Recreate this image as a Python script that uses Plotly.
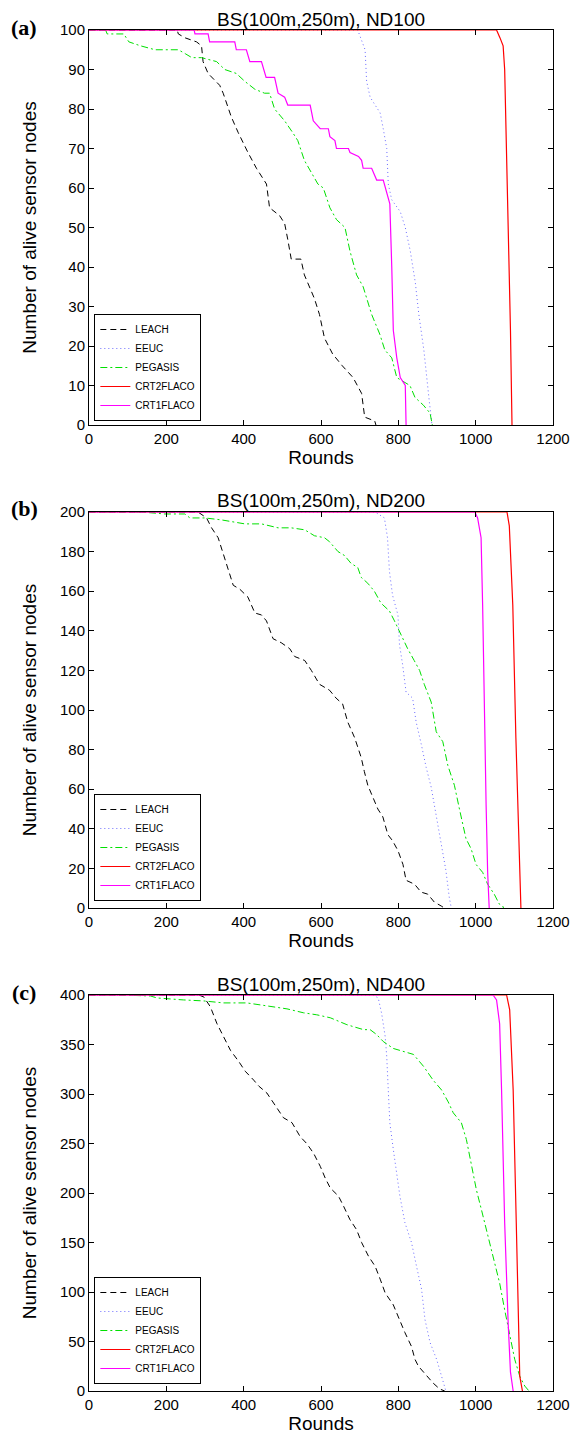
import plotly.graph_objects as go

# ---------------- data ----------------
SERIES = ["LEACH", "EEUC", "PEGASIS", "CRT2FLACO", "CRT1FLACO"]
PANEL_TITLES = ["BS(100m,250m), ND100", "BS(100m,250m), ND200", "BS(100m,250m), ND400"]
PANEL_TAGS = ["(a)", "(b)", "(c)"]
X_TICKS = [0, 200, 400, 600, 800, 1000, 1200]
Y_TICKS_A = [0, 10, 20, 30, 40, 50, 60, 70, 80, 90, 100]
Y_TICKS_B = [0, 20, 40, 60, 80, 100, 120, 140, 160, 180, 200]
Y_TICKS_C = [0, 50, 100, 150, 200, 250, 300, 350, 400]

# (a) ND100
A_LEACH_X = [0, 228, 231, 249, 278, 291, 295, 308, 338, 347, 368, 386, 411, 433, 459, 467, 493, 506,
             514, 523, 548, 557, 583, 596, 609, 630, 655, 683, 705, 713, 739, 742]
A_LEACH_Y = [100, 100, 99, 98, 97, 96, 92, 89, 86, 84, 78, 74, 69, 65, 61, 55, 53, 51,
             47, 42, 42, 38, 32, 28, 22, 18, 15, 12, 8, 2, 1, 0]
A_EEUC_X = [0, 695, 714, 718, 727, 740, 753, 761, 770, 774, 783, 805, 818, 831, 844, 853, 866, 879, 883, 887]
A_EEUC_Y = [100, 100, 95, 87, 83, 81, 79, 75, 70, 61, 57, 54, 50, 44, 36, 28, 19, 7, 3, 0]
A_PEG_X = [0, 43, 47, 90, 103, 133, 171, 231, 249, 266, 291, 330, 351, 381, 403, 429, 454, 467, 480,
           506, 527, 540, 557, 592, 606, 623, 640, 662, 675, 692, 709, 718, 731, 752, 765, 783, 796,
           830, 843, 865, 882, 888]
A_PEG_Y = [100, 100, 99, 99, 97, 96, 95, 95, 94, 93, 93, 92, 90, 89, 87, 85, 84, 84, 80,
           77, 74, 72, 67, 61, 60, 55, 52, 50, 44, 38, 35, 32, 28, 23, 19, 17, 12,
           10, 7, 5, 3, 0]
A_CRT2_X = [0, 1054, 1063, 1071, 1075, 1080, 1084, 1090, 1094]
A_CRT2_Y = [100, 100, 98, 96, 90, 70, 49, 24, 0]
A_CRT1_X = [0, 272, 274, 308, 312, 377, 381, 407, 416, 446, 458, 480, 489, 506, 514, 572, 576, 580,
            598, 619, 623, 636, 640, 671, 675, 697, 705, 709, 731, 735, 744, 761, 770, 774, 778,
            783, 787, 796, 805, 818, 820]
A_CRT1_Y = [100, 100, 99, 99, 97, 97, 95, 95, 92, 92, 88, 88, 84, 83, 81, 81, 79, 77,
            75, 75, 73, 72, 70, 70, 69, 68, 67, 65, 65, 64, 62, 62, 59, 57, 56,
            40, 24, 17, 12, 10, 0]

# (b) ND200
B_LEACH_X = [0, 282, 304, 317, 334, 342, 360, 373, 390, 411, 429, 446, 459, 476, 497, 519, 532, 558,
             575, 596, 622, 639, 656, 669, 687, 704, 712, 721, 734, 747, 760, 773, 785, 799, 812,
             820, 842, 859, 876, 893, 911, 919]
B_LEACH_Y = [200, 200, 197, 192, 187, 182, 172, 163, 161, 157, 149, 148, 145, 136, 134, 131, 127, 125,
             120, 113, 110, 106, 103, 94, 86, 76, 69, 62, 56, 50, 46, 37, 34, 29, 22,
             14, 12, 8, 7, 3, 1, 0]
B_EEUC_X = [0, 740, 764, 772, 777, 785, 799, 803, 811, 820, 837, 846, 859, 872, 885, 898, 910, 923, 932, 937]
B_EEUC_Y = [200, 200, 197, 187, 170, 158, 148, 133, 123, 109, 106, 94, 83, 71, 61, 47, 32, 19, 5, 0]
B_PEG_X = [0, 136, 196, 248, 261, 300, 343, 403, 446, 489, 523, 558, 583, 609, 622, 644, 661, 678,
           695, 704, 721, 738, 755, 777, 790, 807, 824, 841, 855, 867, 885, 898, 915, 928, 945,
           958, 975, 988, 1001, 1018, 1031, 1048, 1061, 1070, 1072]
B_PEG_Y = [200, 200, 199, 199, 197, 197, 196, 194, 194, 192, 192, 191, 188, 187, 185, 180, 178, 174,
           172, 167, 164, 160, 154, 150, 145, 138, 131, 125, 120, 113, 104, 89, 84, 72, 62,
           50, 35, 30, 22, 18, 12, 7, 2, 1, 0]
B_CRT2_X = [0, 1081, 1087, 1096, 1104, 1113, 1117]
B_CRT2_Y = [200, 200, 193, 153, 86, 18, 0]
B_CRT1_X = [0, 998, 1005, 1014, 1018, 1022, 1027, 1031, 1035]
B_CRT1_Y = [200, 200, 197, 187, 153, 103, 52, 18, 0]

# (c) ND400
C_LEACH_X = [0, 284, 297, 314, 331, 357, 366, 387, 404, 426, 439, 460, 477, 503, 525, 546, 563, 581,
             598, 611, 624, 645, 658, 675, 692, 705, 723, 740, 753, 766, 787, 800, 817, 834, 843,
             852, 873, 890, 907, 920]
C_LEACH_Y = [400, 400, 398, 388, 371, 351, 344, 333, 323, 314, 308, 301, 291, 276, 271, 257, 250, 240,
             227, 215, 205, 197, 187, 173, 163, 150, 136, 126, 113, 99, 87, 74, 59, 45, 32,
             25, 15, 8, 2, 0]
C_EEUC_X = [0, 735, 748, 757, 766, 770, 774, 778, 787, 796, 804, 817, 834, 847, 860, 869, 882, 899, 912, 920, 923]
C_EEUC_Y = [400, 400, 397, 381, 358, 338, 304, 271, 244, 217, 197, 170, 150, 126, 103, 72, 49, 32, 15, 2, 0]
C_PEG_X = [0, 82, 159, 176, 245, 297, 348, 408, 443, 477, 512, 555, 589, 624, 667, 710, 727, 744,
           761, 787, 813, 839, 865, 890, 912, 929, 942, 963, 976, 989, 1002, 1015, 1032, 1045,
           1062, 1075, 1088, 1101, 1114, 1127, 1138]
C_PEG_Y = [400, 400, 399, 397, 395, 394, 392, 392, 390, 388, 386, 382, 380, 377, 370, 365, 365, 360,
           353, 346, 343, 340, 328, 314, 304, 292, 281, 271, 254, 230, 203, 183, 156, 136,
           109, 82, 56, 32, 15, 5, 0]
C_CRT2_X = [0, 1080, 1088, 1097, 1105, 1110, 1114, 1121]
C_CRT2_Y = [400, 400, 385, 304, 170, 69, 15, 0]
C_CRT1_X = [0, 1045, 1054, 1062, 1067, 1075, 1084, 1090, 1097]
C_CRT1_Y = [400, 400, 395, 371, 304, 170, 69, 19, 0]

PANELS = [
    [(A_LEACH_X, A_LEACH_Y), (A_EEUC_X, A_EEUC_Y), (A_PEG_X, A_PEG_Y), (A_CRT2_X, A_CRT2_Y), (A_CRT1_X, A_CRT1_Y)],
    [(B_LEACH_X, B_LEACH_Y), (B_EEUC_X, B_EEUC_Y), (B_PEG_X, B_PEG_Y), (B_CRT2_X, B_CRT2_Y), (B_CRT1_X, B_CRT1_Y)],
    [(C_LEACH_X, C_LEACH_Y), (C_EEUC_X, C_EEUC_Y), (C_PEG_X, C_PEG_Y), (C_CRT2_X, C_CRT2_Y), (C_CRT1_X, C_CRT1_Y)],
]
Y_MAX = [100, 200, 400]
Y_TICKS = [Y_TICKS_A, Y_TICKS_B, Y_TICKS_C]

# ---------------- style ----------------
FONT = "Liberation Sans, Arial, Helvetica, sans-serif"
STYLE = {
    "LEACH": dict(color="black", width=1, dash="6px,4px"),
    "EEUC": dict(color="#6b6bff", width=1, dash="1px,3px"),
    "PEGASIS": dict(color="#00e000", width=1, dash="7px,3px,2px,3px"),
    "CRT2FLACO": dict(color="#ff0000", width=1.2),
    "CRT1FLACO": dict(color="#ff00ff", width=1.2),
}

# the page body adds an 8px offset, so the figure box is placed 8px right/down
OFFSET = 8
W, H = 587, 1440
PANEL_PX = [(30, 425), (512, 908), (995, 1391)]   # page pixel (top, bottom) of each panel
LEGEND_BOTTOM_PX = [421, 901, 1384]
M_L, M_R = 89 - OFFSET, 34 + OFFSET
M_T, M_B = PANEL_PX[0][0] - OFFSET, H - (PANEL_PX[2][1] - OFFSET)
PLOT_H = H - M_T - M_B


def to_paper(py):
    return (H - M_B - (py - OFFSET)) / PLOT_H


fig = go.Figure()
legend_names = ["legend", "legend2", "legend3"]

for i, panel in enumerate(PANELS):
    ax = "" if i == 0 else str(i + 1)
    for name, (xs, ys) in zip(SERIES, panel):
        fig.add_trace(
            go.Scatter(
                x=xs, y=ys, mode="lines", name=name,
                line=STYLE[name],
                xaxis="x" + ax, yaxis="y" + ax,
                legend=legend_names[i],
            )
        )

layout = dict(
    width=W, height=H,
    margin=dict(l=M_L, r=M_R, t=M_T, b=M_B, autoexpand=False),
    paper_bgcolor="white", plot_bgcolor="white",
    font=dict(family=FONT, size=15, color="black"),
    showlegend=True,
    annotations=[],
)

for i in range(3):
    ax = "" if i == 0 else str(i + 1)
    top, bot = PANEL_PX[i]
    layout["xaxis" + ax] = dict(
        domain=[0, 1], anchor="y" + ax, range=[0, 1200], automargin=False,
        tickmode="array", tickvals=X_TICKS,
        ticks="inside", ticklen=5, tickcolor="black",
        showline=True, linecolor="black", linewidth=1, mirror="ticks",
        showgrid=False, zeroline=False,
        tickfont=dict(size=15),
        title=dict(text="Rounds", font=dict(size=19), standoff=4),
    )
    layout["yaxis" + ax] = dict(
        domain=[to_paper(bot), to_paper(top)], anchor="x" + ax, range=[0, Y_MAX[i]], automargin=False,
        tickmode="array", tickvals=Y_TICKS[i],
        ticks="inside", ticklen=5, tickcolor="black",
        showline=True, linecolor="black", linewidth=1, mirror="ticks",
        showgrid=False, zeroline=False,
        tickfont=dict(size=15),
        title=dict(text="Number of alive sensor nodes", font=dict(size=19), standoff=18),
    )
    layout[legend_names[i]] = dict(
        x=0.0115, xanchor="left",
        y=to_paper(LEGEND_BOTTOM_PX[i]), yanchor="bottom",
        bgcolor="white", bordercolor="black", borderwidth=1,
        font=dict(family=FONT, size=10),
        tracegroupgap=0, itemwidth=30,
    )
    layout["annotations"].append(dict(
        text=PANEL_TITLES[i], xref="x" + ax + " domain", yref="y" + ax + " domain",
        x=0.5, y=1, xanchor="center", yanchor="middle", yshift=11,
        showarrow=False, font=dict(size=19),
    ))
    layout["annotations"].append(dict(
        text="<b>" + PANEL_TAGS[i] + "</b>", xref="x" + ax + " domain", yref="y" + ax + " domain",
        x=-0.14, y=1, xanchor="center", yanchor="middle", yshift=3,
        showarrow=False, font=dict(family="Liberation Serif, Times New Roman, serif", size=22),
    ))

fig.update_layout(**layout)
fig.write_html("out.html")
